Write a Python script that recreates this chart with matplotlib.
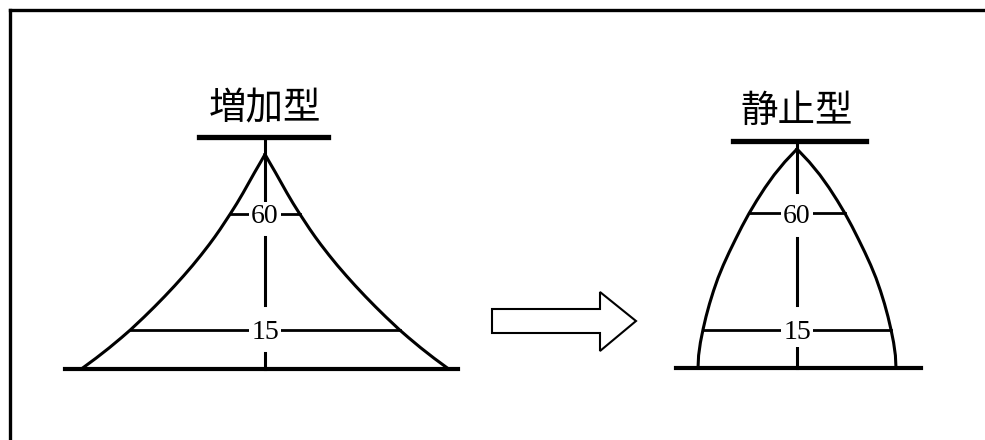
#!/usr/bin/env python3
"""Population pyramid shapes: 増加型 -> 静止型 (schematic)."""
import matplotlib
matplotlib.use("Agg")
import matplotlib.pyplot as plt
from matplotlib.patches import Polygon

# --- data: age (years) vs half-width of the pyramid (population, arb. units)
ages_grow = [0, 4, 8, 12, 15, 20, 24, 28, 32, 36, 40, 44, 48, 51, 54, 57, 60,
             64, 68, 72, 76, 80, 83]
width_grow = [183, 169, 155.8, 143.4, 134.5, 120.8, 110.3, 100.2, 90.5, 81.2, 72.3,
              63.9, 55.9, 50.2, 44.8, 39.7, 34.6, 28.1, 22, 16.2, 10.4, 4.4, 0]

ages_static = [0, 5, 10, 15, 20, 25, 30, 35, 40, 45, 50, 55, 60, 65, 70, 75, 80, 85]
width_static = [99, 98.4, 96.6, 94, 91, 87.5, 83.5, 79, 73.7, 67.8, 61.5, 55, 48,
                40.3, 32, 22.8, 12.2, 0]

titles = ["増加型", "静止型"]
marked_ages = [15, 60]

W, H = 985, 440
PX_PER_YR = 2.58
FONT_CJK = ["Noto Sans CJK JP", "DejaVu Sans"]
FONT_NUM = "Liberation Serif"

fig = plt.figure(figsize=(W / 100, H / 100), dpi=100)

# overlay in pixel units for frame + arrow
ax0 = fig.add_axes([0, 0, 1, 1])
ax0.set_xlim(0, W); ax0.set_ylim(H, 0); ax0.axis("off")
ax0.plot([10, 10], [H, 10.5], color="k", lw=2.4, solid_capstyle="projecting")
ax0.plot([10, W], [10.5, 10.5], color="k", lw=2.4, solid_capstyle="projecting")
arrow = Polygon([(492, 309), (600, 309), (600, 292), (636, 321), (600, 351),
                 (600, 333), (492, 333)], closed=True, fc="white", ec="k", lw=1.5)
ax0.add_patch(arrow)


def pyramid_ax(cx, base_y):
    # 1 unit = 1 px horizontally, 1 year = PX_PER_YR px vertically
    ax = fig.add_axes([0, 0, 1, 1])
    ax.set_xlim(-cx, W - cx)
    ax.set_ylim((base_y - H) / PX_PER_YR, base_y / PX_PER_YR)
    ax.axis("off")
    ax.patch.set_alpha(0)
    return ax


def draw(ax, ages, widths, title, base_span, bar_span, bar_age, vsegs, title_age):
    kw = dict(color="k", solid_joinstyle="round")
    ax.plot(widths, ages, lw=2.2, **kw)
    ax.plot([-w for w in widths], ages, lw=2.2, **kw)
    ax.plot(base_span, [0, 0], lw=3.0, color="k")
    ax.plot(bar_span, [bar_age, bar_age], lw=3.8, color="k")
    for top, bot in vsegs:
        ax.plot([0, 0], [top, bot], lw=2.2, color="k")
    for a in marked_ages:
        w = widths[ages.index(a)]
        ax.plot([-w, w], [a, a], lw=2.0, color="k")
        ax.text(0, a, str(a), ha="center", va="center_baseline", fontsize=20,
                family=FONT_NUM, bbox=dict(fc="white", ec="none", pad=1.5))
    ax.text(0, title_age, title, ha="center", va="center", fontsize=27,
            family=FONT_CJK)


ax1 = pyramid_ax(265, 368.5)
draw(ax1, ages_grow, width_grow, titles[0], [-200, 193], [-66, 63], 89.7,
     [(89.7, 64), (51, 24.6), (6, 0)], 100.5)

ax2 = pyramid_ax(797, 368.3)
draw(ax2, ages_static, width_static, titles[1], [-121, 124], [-64, 69], 88.1,
     [(88.1, 68.4), (50.5, 24.5), (8.4, 0)], 99.5)

fig.savefig("out.png", dpi=100)
